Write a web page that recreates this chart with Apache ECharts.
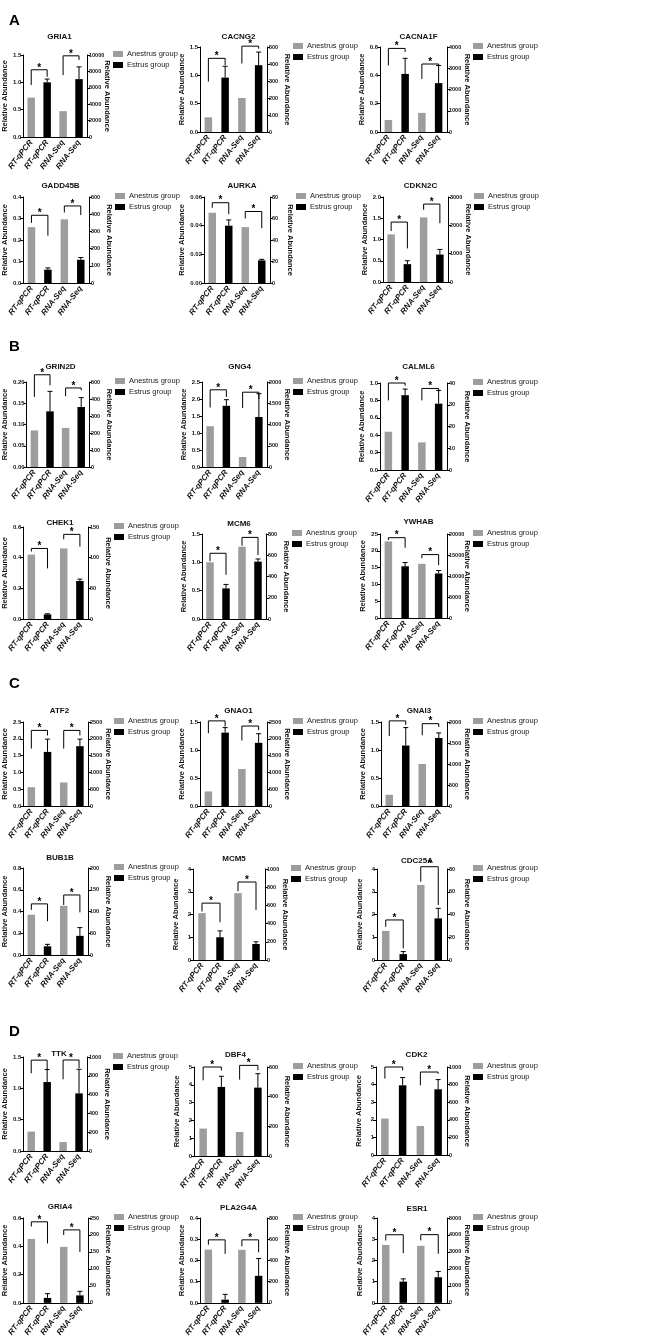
<!DOCTYPE html>
<html>
<head>
<meta charset="utf-8">
<script src="https://cdn.jsdelivr.net/npm/echarts@6/dist/echarts.min.js"></script>
<style>
  html, body { margin: 0; padding: 0; background: #fff; }
  #chart { width: 664px; height: 1339px; }
</style>
</head>
<body>
<div id="chart"></div>
<script>
// ---- data ----
var genes = ['GRIA1', 'CACNG2', 'CACNA1F', 'GADD45B', 'AURKA', 'CDKN2C',
             'GRIN2D', 'GNG4', 'CALML6', 'CHEK1', 'MCM6', 'YWHAB',
             'ATF2', 'GNAO1', 'GNAI3', 'BUB1B', 'MCM5', 'CDC25A',
             'TTK', 'DBF4', 'CDK2', 'GRIA4', 'PLA2G4A', 'ESR1'];
var categories = ['RT-qPCR', 'RT-qPCR', 'RNA-Seq', 'RNA-Seq'];
var sectionLabels = ['A', 'B', 'C', 'D'];
var groupNames = ['Anestrus group', 'Estrus group'];

// RT-qPCR (left axis)
var anestrusQpcr = [0.72, 0.26, 0.085, 0.26, 0.049, 1.12, 0.086, 1.2, 0.44, 0.42, 1.0, 22.8,
                    0.56, 0.26, 0.2, 0.37, 2.06, 1.28, 0.31, 1.54, 2.07, 0.452, 0.251, 2.73];
var estrusQpcr = [1.0, 0.96, 0.41, 0.062, 0.040, 0.42, 0.131, 1.8, 0.86, 0.03, 0.54, 15.4,
                  1.61, 1.31, 1.08, 0.08, 1.0, 0.26, 1.10, 3.88, 3.96, 0.035, 0.015, 1.0];
var estrusQpcrErr = [1.06, 1.16, 0.52, 0.07, 0.044, 0.50, 0.178, 1.98, 0.93, 0.034, 0.61, 16.5,
                     1.99, 1.40, 1.4, 0.098, 1.28, 0.37, 1.30, 4.48, 4.40, 0.065, 0.04, 1.13];

// RNA-Seq (right axis)
var anestrusSeq = [3150, 200, 900, 370, 52, 2280, 230, 235, 12.7, 115, 680, 12900,
                   700, 1100, 1000, 113, 735, 66, 95, 162, 330, 165, 500, 3360];
var estrusSeq = [7060, 393, 2300, 135, 21, 970, 353, 1176, 30.5, 62, 540, 10600,
                 1780, 1880, 1620, 44, 176, 36.6, 613, 461, 747, 22, 255, 1510];
var estrusSeqErr = [8550, 470, 3130, 148, 22, 1150, 408, 1725, 36.6, 65, 565, 11300,
                    1990, 2150, 1740, 63, 200, 45.4, 869, 555, 857, 34, 418, 1850];

// axis ranges
var leftMax = [1.5, 1.5, 0.6, 0.4, 0.06, 2.0, 0.2, 2.5, 1.0, 0.6, 1.5, 25,
               2.5, 1.5, 1.5, 0.8, 4, 4, 1.5, 5, 5, 0.6, 0.4, 4];
var leftStep = [0.5, 0.5, 0.2, 0.1, 0.02, 0.5, 0.05, 0.5, 0.2, 0.2, 0.5, 5,
                0.5, 0.5, 0.5, 0.2, 1, 1, 0.5, 1, 1, 0.2, 0.1, 1];
var leftDecimals = [1, 1, 1, 1, 2, 1, 2, 1, 1, 1, 1, 0,
                    1, 1, 1, 1, 0, 0, 1, 0, 0, 1, 1, 0];
var rightMax = [10000, 500, 4000, 500, 80, 3000, 500, 2000, 40, 150, 800, 20000,
                2500, 2500, 2000, 200, 1000, 80, 1000, 600, 1000, 250, 800, 5000];
var rightStep = [2000, 100, 1000, 100, 20, 1000, 100, 500, 10, 50, 200, 5000,
                 500, 500, 500, 50, 200, 20, 200, 200, 200, 50, 200, 1000];

// significance brackets: [top, left leg end, right leg end]
var qpcrBracket = [[1.23, 0.95, 1.10], [1.30, 0.89, 1.18], [0.59, 0.47, 0.565], [0.315, 0.28, 0.22],
                   [0.056, 0.0525, 0.048], [1.41, 1.2, 0.79], [0.217, 0.165, 0.192], [2.27, 1.75, 2.06],
                   [1.0, 0.80, 0.97], [0.46, 0.44, 0.33], [1.16, 1.02, 0.78], [23.9, 23.2, 20.9],
                   [2.25, 1.71, 2.10], [1.52, 1.30, 1.42], [1.52, 1.25, 1.45], [0.47, 0.415, 0.31],
                   [2.5, 2.13, 1.66], [1.76, 1.46, 0.51], [1.45, 1.24, 1.30], [5.0, 4.25, 4.81],
                   [5.0, 4.34, 4.81], [0.573, 0.54, 0.42], [0.297, 0.274, 0.231], [3.21, 2.94, 2.34]];
var seqBracket = [[9900, 7550, 9400], [505, 403, 490], [3200, 2500, 3150], [448, 410, 395],
                  [66.5, 60, 51], [2750, 2550, 2075], [465, 416, 451], [1760, 1388, 1600],
                  [37.5, 32, 36], [138, 130, 118], [768, 690, 602], [15100, 14200, 12600],
                  [2250, 1710, 2100], [2380, 1950, 2260], [1960, 1684, 1882], [138, 115, 98],
                  [857, 755, 550], [82, 68.9, 48.4], [968, 763, 881], [611, 515, 578],
                  [943, 792, 924], [215, 200, 150], [594, 532, 477], [4020, 3680, 2890]];

// ---- layout (px) ----
var panelLeft = [22, 200, 380, 22, 204, 383, 22, 202, 380, 22, 202, 380,
                 21, 200, 381, 22, 193, 377, 21, 194, 376, 22, 200, 377];
var panelRight = [87, 267, 447, 89, 270, 448, 89, 267, 447, 88, 266, 447,
                  88, 267, 447, 88, 265, 447, 87, 267, 447, 88, 267, 447];
var panelTop = [55, 47, 47, 197, 197, 197, 382, 382, 383, 527, 534, 534,
                722, 722, 722, 868, 869, 869, 1057, 1067, 1067, 1218, 1218, 1218];
var panelBottom = [137, 132, 132, 283, 283, 282, 467, 467, 470, 619, 619, 618,
                   806, 806, 806, 955, 960, 960, 1151, 1156, 1155, 1304, 1304, 1306];
var titleY = [33, 33, 33, 182, 182, 182, 363, 363, 363, 519, 520, 518,
              707, 707, 707, 854, 855, 857, 1050, 1051, 1051, 1203, 1204, 1205];
var sectionTop = [8, 334, 671, 1019];

var FONT = 'Liberation Sans, Arial, sans-serif';
var GRAY = '#9d9d9d';

var chart = echarts.init(document.getElementById('chart'), null, { renderer: 'canvas' });

function renderErr(params, api) {
    var x = api.value(0);
    var p0 = api.coord([x, api.value(1)]);
    var p1 = api.coord([x, api.value(2)]);
    var cap = 2.5;
    return {
        type: 'group',
        children: [
            { type: 'line', shape: { x1: p0[0], y1: p0[1], x2: p1[0], y2: p1[1] }, style: { stroke: '#000', lineWidth: 1 } },
            { type: 'line', shape: { x1: p1[0] - cap, y1: p1[1], x2: p1[0] + cap, y2: p1[1] }, style: { stroke: '#000', lineWidth: 1 } }
        ]
    };
}

function renderBracket(params, api) {
    var x1 = api.value(0), x2 = api.value(1);
    var a = api.coord([x1, api.value(3)]);
    var b = api.coord([x1, api.value(2)]);
    var c = api.coord([x2, api.value(2)]);
    var d = api.coord([x2, api.value(4)]);
    return {
        type: 'group',
        children: [
            { type: 'polyline', shape: { points: [a, b, c, d] }, style: { stroke: '#000', lineWidth: 1, fill: null } },
            {
                type: 'text', x: (b[0] + c[0]) / 2, y: b[1] - 2,
                style: {
                    text: '*', fill: '#000', font: 'bold 10px ' + FONT,
                    textAlign: 'center', textVerticalAlign: 'middle', align: 'center', verticalAlign: 'middle'
                }
            }
        ]
    };
}

var titles = [], grids = [], xAxes = [], yAxes = [], legends = [], series = [];

sectionLabels.forEach(function(s, k) {
    titles.push({ text: s, left: 4, top: sectionTop[k], textStyle: { fontSize: 15, fontWeight: 'bold', color: '#000', fontFamily: FONT } });
});

genes.forEach(function(g, i) {
    var w = panelRight[i] - panelLeft[i];
    titles.push({
        text: g, left: panelLeft[i] + w / 2, top: titleY[i] - 5, textAlign: 'center',
        textStyle: { fontSize: 8, fontWeight: 'bold', color: '#111', fontFamily: FONT }
    });
    grids.push({ left: panelLeft[i], top: panelTop[i], width: w, height: panelBottom[i] - panelTop[i] });
    xAxes.push({
        gridIndex: i, type: 'category', data: categories,
        axisLine: { lineStyle: { color: '#000', width: 1 } },
        axisTick: { alignWithLabel: true, length: 3, lineStyle: { color: '#000' } },
        axisLabel: { interval: 0, rotate: 52, margin: 4, fontSize: 8, fontWeight: 'bold', fontStyle: 'italic', color: '#111', fontFamily: FONT }
    });
    var nameStyle = { fontSize: 7.5, fontWeight: 'bold', color: '#111', fontFamily: FONT };
    var dec = leftDecimals[i];
    yAxes.push({
        gridIndex: i, type: 'value', position: 'left', min: 0, max: leftMax[i], interval: leftStep[i],
        name: 'Relative Abundance', nameLocation: 'middle', nameGap: 13, nameTextStyle: nameStyle,
        axisLine: { show: true, lineStyle: { color: '#000', width: 1 } },
        axisTick: { show: true, length: 3, lineStyle: { color: '#000' } },
        splitLine: { show: false },
        axisLabel: { margin: 2, fontSize: 6, fontWeight: 'bold', color: '#111', fontFamily: FONT,
                     formatter: function(v) { return v.toFixed(dec); } }
    });
    yAxes.push({
        gridIndex: i, type: 'value', position: 'right', min: 0, max: rightMax[i], interval: rightStep[i],
        name: 'Relative Abundance', nameLocation: 'middle', nameRotate: -90, nameGap: 16,
        nameMoveOverlap: false, nameTextStyle: nameStyle,
        axisLine: { show: true, lineStyle: { color: '#000', width: 1 } },
        axisTick: { show: true, length: 3, lineStyle: { color: '#000' } },
        splitLine: { show: false },
        axisLabel: { margin: 2, fontSize: 5.5, fontWeight: 'bold', color: '#111', fontFamily: FONT,
                     formatter: function(v) { return String(Math.round(v)); } }
    });
    legends.push({
        data: groupNames, orient: 'vertical', left: panelRight[i] + 26, top: panelTop[i] - 5,
        icon: 'rect', itemWidth: 10, itemHeight: 6, itemGap: 3, selectedMode: false, padding: 0,
        textStyle: { fontSize: 7.5, color: '#222', fontFamily: FONT, padding: [0, 0, 0, -1] }
    });

    var L = 2 * i, R = 2 * i + 1;
    var barBase = { type: 'bar', xAxisIndex: i, barWidth: 7.5, barGap: '-100%', silent: true };
    series.push(Object.assign({}, barBase, { name: groupNames[0], yAxisIndex: L, itemStyle: { color: GRAY },
        data: [anestrusQpcr[i], '-', '-', '-'] }));
    series.push(Object.assign({}, barBase, { name: groupNames[1], yAxisIndex: L, itemStyle: { color: '#000' },
        data: ['-', estrusQpcr[i], '-', '-'] }));
    series.push(Object.assign({}, barBase, { name: groupNames[0], yAxisIndex: R, itemStyle: { color: GRAY },
        data: ['-', '-', anestrusSeq[i], '-'] }));
    series.push(Object.assign({}, barBase, { name: groupNames[1], yAxisIndex: R, itemStyle: { color: '#000' },
        data: ['-', '-', '-', estrusSeq[i]] }));

    series.push({ type: 'custom', xAxisIndex: i, yAxisIndex: L, silent: true, renderItem: renderErr,
        data: [[1, estrusQpcr[i], estrusQpcrErr[i]]] });
    series.push({ type: 'custom', xAxisIndex: i, yAxisIndex: R, silent: true, renderItem: renderErr,
        data: [[3, estrusSeq[i], estrusSeqErr[i]]] });
    series.push({ type: 'custom', xAxisIndex: i, yAxisIndex: L, silent: true, renderItem: renderBracket,
        data: [[0, 1].concat(qpcrBracket[i])] });
    series.push({ type: 'custom', xAxisIndex: i, yAxisIndex: R, silent: true, renderItem: renderBracket,
        data: [[2, 3].concat(seqBracket[i])] });
});

chart.setOption({
    backgroundColor: '#fff',
    animation: false,
    textStyle: { fontFamily: FONT },
    title: titles,
    legend: legends,
    grid: grids,
    xAxis: xAxes,
    yAxis: yAxes,
    series: series
});

window.addEventListener('resize', function() {
    chart.resize();
});
</script>
</body>
</html>
